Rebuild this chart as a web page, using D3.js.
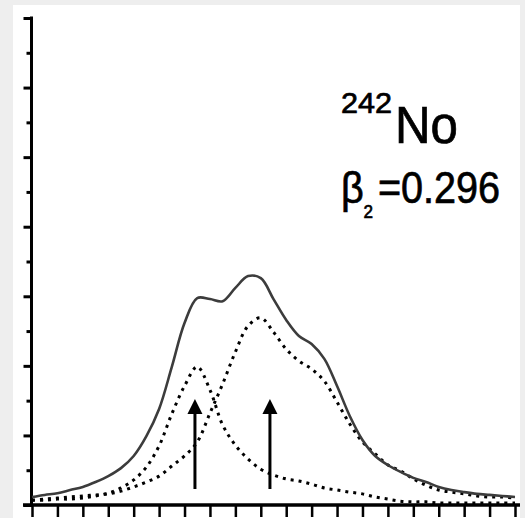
<!DOCTYPE html>
<html>
<head>
<meta charset="utf-8">
<script src="https://cdn.jsdelivr.net/npm/d3@7/dist/d3.min.js"></script>
<style>
  html, body { margin: 0; padding: 0; background: #eeeeee; }
  svg { display: block; font-family: "Liberation Sans", Arial, sans-serif; }
</style>
</head>
<body>
<div id="chart"></div>
<script>
// x positions (tick units) shared by the three curves
const xGrid = [0, 0.5, 1, 1.5, 2, 2.5, 3, 3.5, 4, 4.5, 5, 5.5, 6, 6.5, 7, 7.5, 8, 8.5, 9, 9.5,
  10, 10.5, 11, 11.5, 12, 12.5, 13, 13.5, 14, 14.5, 15, 15.5, 16, 16.5, 17, 17.5, 18, 18.5, 19];

// full strength function (solid)
const totalStrength = [0.23, 0.29, 0.34, 0.43, 0.52, 0.66, 0.83, 1.06, 1.41, 1.98, 2.76, 3.97, 5.23, 5.95, 5.92, 5.86, 6.24, 6.58, 6.52, 5.92,
  5.32, 4.86, 4.63, 4.20, 3.42, 2.56, 1.87, 1.41, 1.15, 0.95, 0.78, 0.66, 0.52, 0.43, 0.37, 0.32, 0.29, 0.26, 0.23];

// lower component (dotted, left peak)
const lowerComponent = [0.14, 0.14, 0.17, 0.17, 0.20, 0.26, 0.34, 0.49, 0.72, 1.09, 1.70, 2.62, 3.42, 3.97, 3.31, 2.30, 1.72, 1.32, 1.03, 0.86,
  0.75, 0.69, 0.60, 0.49, 0.43, 0.37, 0.32, 0.23, 0.17, 0.11, 0.09, 0.09, 0.06, 0.06, 0.06, 0.06, 0.06, 0.06, 0.06];

// upper component (dotted, right peak)
const upperComponent = [0.14, 0.17, 0.20, 0.23, 0.26, 0.29, 0.32, 0.40, 0.52, 0.66, 0.83, 1.12, 1.41, 1.81, 2.64, 3.48, 4.40, 5.15, 5.38, 4.97,
  4.48, 4.14, 3.91, 3.56, 2.96, 2.33, 1.81, 1.47, 1.15, 0.98, 0.75, 0.57, 0.43, 0.37, 0.32, 0.26, 0.23, 0.23, 0.20];

// arrows marking the two centroids
const arrowX = [6.41, 9.36];
const arrowFrom = 0.46;
const arrowTo = 3.05;

const xTickValues = d3.range(0, 20);
const yTickValues = d3.range(0, 15);

const width = 525;
const height = 518;

const svg = d3.select("#chart")
  .append("svg")
  .attr("width", width)
  .attr("height", height);

svg.append("rect")
  .attr("x", 0).attr("y", 0)
  .attr("width", width).attr("height", height)
  .attr("fill", "#eeeeee");

svg.append("rect")
  .attr("x", 13).attr("y", 5)
  .attr("width", 507).attr("height", 513)
  .attr("fill", "#ffffff");

const xScale = d3.scaleLinear().domain([0, 19]).range([32, 515]);
const yScale = d3.scaleLinear().domain([0, 14]).range([505, 18]);

// y axis
const yAxis = d3.axisLeft(yScale)
  .tickValues(yTickValues)
  .tickSizeOuter(0)
  .tickFormat("");

const yAxisG = svg.append("g")
  .attr("transform", `translate(${xScale(0) - 0.5}, 0)`)
  .call(yAxis);
yAxisG.select(".domain")
  .attr("stroke", "#000")
  .attr("stroke-width", 3)
  .attr("d", `M0,${yScale(0) + 2}V${yScale(14) - 1.5}`);
yAxisG.selectAll(".tick line")
  .attr("stroke", "#000")
  .attr("stroke-width", 3)
  .attr("x2", (d) => (d % 2 === 0 ? -8 : -5));

// x axis
const xAxis = d3.axisBottom(xScale)
  .tickValues(xTickValues)
  .tickSizeOuter(0)
  .tickSize(11)
  .tickFormat("");

const xAxisG = svg.append("g")
  .attr("transform", `translate(0, ${yScale(0) + 1})`)
  .call(xAxis);
xAxisG.select(".domain").remove();
xAxisG.selectAll(".tick line")
  .attr("stroke", "#000")
  .attr("stroke-width", 2.5);

svg.append("line")
  .attr("x1", xScale(0) - 9)
  .attr("x2", xScale(19) + 5)
  .attr("y1", yScale(0))
  .attr("y2", yScale(0))
  .attr("stroke", "#000")
  .attr("stroke-width", 3.5);

// curves
const line = (values) => d3.line()
  .x((d, i) => xScale(xGrid[i]))
  .y((d) => yScale(d))
  .curve(d3.curveCatmullRom.alpha(0.5))(values);

svg.append("path")
  .attr("d", line(lowerComponent))
  .attr("fill", "none")
  .attr("stroke", "#000")
  .attr("stroke-width", 3)
  .attr("stroke-dasharray", "3 5");

svg.append("path")
  .attr("d", line(upperComponent))
  .attr("fill", "none")
  .attr("stroke", "#000")
  .attr("stroke-width", 3)
  .attr("stroke-dasharray", "3 5");

svg.append("path")
  .attr("d", line(totalStrength))
  .attr("fill", "none")
  .attr("stroke", "#3c3c3c")
  .attr("stroke-width", 2.6);

// arrows
arrowX.forEach((xv) => {
  const x = xScale(xv);
  const yTip = yScale(arrowTo);
  svg.append("line")
    .attr("x1", x).attr("x2", x)
    .attr("y1", yScale(arrowFrom))
    .attr("y2", yTip + 12)
    .attr("stroke", "#000")
    .attr("stroke-width", 3);
  svg.append("path")
    .attr("d", `M${x},${yTip}L${x - 7.5},${yTip + 15}L${x + 7.5},${yTip + 15}Z`)
    .attr("fill", "#000");
});

// labels
const label = (x, y, size, str, len) => {
  const t = svg.append("text")
    .attr("x", x).attr("y", y)
    .attr("font-size", size)
    .attr("fill", "#000")
    .attr("stroke", "#000")
    .attr("stroke-width", 0.7)
    .text(str);
  if (len) {
    t.attr("textLength", len).attr("lengthAdjust", "spacingAndGlyphs");
  }
  return t;
};

label(341, 113, 29, "242", 51);
label(395, 143, 51, "No", 63);

// beta_2 = 0.296, one text element, squeezed horizontally
const beta = svg.append("text")
  .attr("transform", "translate(341, 203) scale(0.9, 1)")
  .attr("font-size", 44)
  .attr("fill", "#000")
  .attr("stroke", "#000")
  .attr("stroke-width", 0.7);
beta.append("tspan").attr("x", 0).attr("y", 0).text("β");
beta.append("tspan").attr("x", 25).attr("y", 15).attr("font-size", 19).text("2");
beta.append("tspan").attr("x", 41).attr("y", 0).text("=0.296");
</script>
</body>
</html>
